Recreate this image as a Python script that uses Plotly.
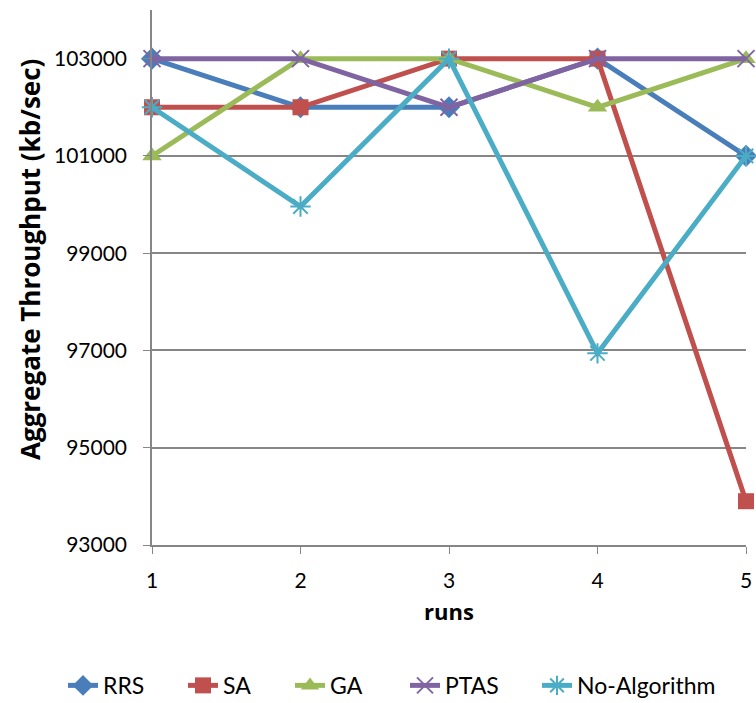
import plotly.graph_objects as go

runs = [1, 2, 3, 4, 5]
rrs = [103000, 102000, 102000, 103000, 101000]
sa = [102000, 102000, 103000, 103000, 93900]
ga = [101000, 103000, 103000, 102000, 103000]
ptas = [103000, 103000, 102000, 103000, 103000]
no_algorithm = [102000, 99960, 103000, 96940, 101000]

y_ticks = [93000, 95000, 97000, 99000, 101000, 103000]
y_tick_labels = [str(v) for v in y_ticks]

series = [
    ("RRS", rrs, "#4A7EBB", "diamond", 17, 0),
    ("SA", sa, "#C0504D", "square", 16, 0),
    ("GA", ga, "#9BBB59", "triangle-up", 17, 0),
    ("PTAS", ptas, "#8064A2", "x-thin-open", 17, 2),
    ("No-Algorithm", no_algorithm, "#4BACC6", "asterisk-open", 17, 2),
]

# left edge (px) of each legend entry along the bottom row
legend_left_px = [63, 183, 290, 405, 537]

font_family = "Lato, Carlito, Calibri, sans-serif"
axis_grey = "#868686"

fig = go.Figure()
legend_layouts = {}
for i, (name, vals, color, symbol, size, lw) in enumerate(series):
    legend_id = "legend" if i == 0 else f"legend{i + 1}"
    fig.add_trace(go.Scatter(
        x=runs, y=vals, name=name, mode="lines+markers",
        line=dict(color=color, width=5),
        marker=dict(symbol=symbol, size=size, color=color,
                    line=dict(color=color, width=lw)),
        cliponaxis=False, legend=legend_id,
    ))
    legend_layouts[legend_id] = dict(
        orientation="h", x=legend_left_px[i] / 756, xanchor="left",
        xref="container", y=0.025, yanchor="middle", yref="container",
        font=dict(size=23), itemwidth=30, bgcolor="rgba(0,0,0,0)",
    )

fig.update_layout(
    width=756, height=703,
    margin=dict(l=152, r=10, t=10, b=158, autoexpand=False),
    paper_bgcolor="white", plot_bgcolor="white",
    font=dict(family=font_family, color="black", size=20),
    showlegend=True,
    xaxis=dict(
        range=[1, 5], tickvals=runs, ticktext=[str(r) for r in runs],
        showgrid=False, zeroline=False, automargin=False,
        showline=True, linecolor=axis_grey, linewidth=1.5,
        ticks="outside", ticklen=7, tickcolor=axis_grey,
        tickfont=dict(size=21), ticklabelstandoff=9,
        title=dict(text="<b>runs</b>", standoff=14,
                   font=dict(size=22, family="Open Sans, sans-serif")),
    ),
    yaxis=dict(
        range=[93000, 104000], tickvals=y_ticks, ticktext=y_tick_labels,
        showgrid=True, gridcolor=axis_grey, gridwidth=1.5,
        zeroline=False, automargin=False,
        showline=True, linecolor=axis_grey, linewidth=1.5,
        ticks="outside", ticklen=7, tickcolor=axis_grey,
        tickfont=dict(size=21), ticklabelstandoff=12,
    ),
    annotations=[dict(
        text="<b>Aggregate Throughput (kb/sec)</b>", textangle=-90,
        xref="paper", yref="paper",
        x=(30 - 152) / 594, y=(545 - 260) / 535,
        xanchor="center", yanchor="middle", showarrow=False,
        font=dict(size=26, family="Open Sans, sans-serif", color="black"),
    )],
    **legend_layouts,
)

fig.write_html("out.html")
